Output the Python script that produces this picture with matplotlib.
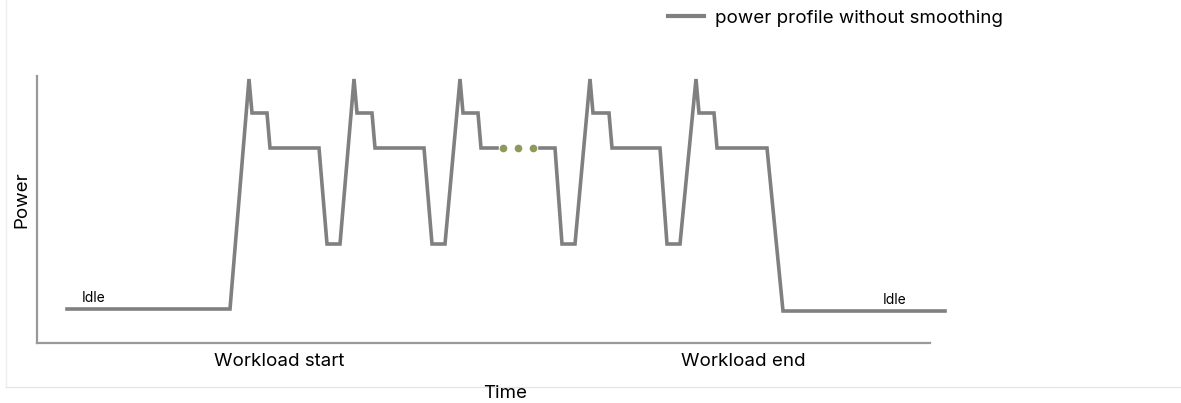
import matplotlib.pyplot as plt
from matplotlib.lines import Line2D

# === Daten (willkürliche Einheiten) ===
# Abschnitt 1: Idle -> drei Lastzyklen bis zur Lücke
time_a = [3.0, 19.3, 21.2, 21.5, 23.0, 23.3, 28.2, 29.0, 30.3,
          31.7, 32.0, 33.5, 33.8, 38.7, 39.5, 40.8,
          42.3, 42.6, 44.1, 44.4, 46.0]
power_a = [3.4, 3.4, 26.4, 23.0, 23.0, 19.5, 19.5, 9.9, 9.9,
           26.4, 23.0, 23.0, 19.5, 19.5, 9.9, 9.9,
           26.4, 23.0, 23.0, 19.5, 19.5]

# Abschnitt 2: nach der Lücke bis Idle
time_b = [50.3, 51.8, 52.5, 53.8, 55.3, 55.6, 57.2, 57.5, 62.3,
          63.0, 64.3, 65.9, 66.2, 67.7, 68.0, 73.0, 74.6, 90.8]
power_b = [19.5, 19.5, 9.9, 9.9, 26.4, 23.0, 23.0, 19.5, 19.5,
           9.9, 9.9, 26.4, 23.0, 23.0, 19.5, 19.5, 3.2, 3.2]

# Punkte "..."
dots_time = [46.6, 48.1, 49.6]
dots_power = [19.5, 19.5, 19.5]

line_color = "#808080"
font = ["Inter", "DejaVu Sans"]

fig = plt.figure(figsize=(11.81, 4.03), dpi=100)
ax = fig.add_axes([37 / 1181, 60 / 403, 893 / 1181, 267 / 403])

ax.plot(time_a, power_a, color=line_color, lw=2.6, clip_on=False,
        solid_joinstyle="miter")
ax.plot(time_b, power_b, color=line_color, lw=2.6, clip_on=False,
        solid_joinstyle="miter")
ax.plot(dots_time, dots_power, ls="none", marker="o", ms=4.5,
        color="#8c9a5e", clip_on=False)

ax.set_xlim(0, 89.3)
ax.set_ylim(0, 26.7)
ax.set_xticks([])
ax.set_yticks([])
for side in ["top", "right"]:
    ax.spines[side].set_visible(False)
for side in ["left", "bottom"]:
    ax.spines[side].set_color("#999999")
    ax.spines[side].set_linewidth(1.6)

# Beschriftungen
ax.text(4.5, 3.8, "Idle", fontsize=10, family=font, ha="left", va="bottom")
ax.text(84.6, 3.6, "Idle", fontsize=10, family=font, ha="left", va="bottom")
fig.text(279 / 1181, 1 - 362 / 403, "Workload start", fontsize=13.5,
         family=font, ha="center", va="center")
fig.text(743 / 1181, 1 - 362 / 403, "Workload end", fontsize=13.5,
         family=font, ha="center", va="center")
fig.text(505 / 1181, 1 - 394 / 403, "Time", fontsize=13.5, family=font,
         ha="center", va="center")
fig.text(22 / 1181, 1 - 200 / 403, "Power", fontsize=13.5, family=font,
         ha="center", va="center", rotation=90)

# Legende
handle = Line2D([], [], color=line_color, lw=3)
fig.legend([handle], ["power profile without smoothing"],
           loc="center left", bbox_to_anchor=(651 / 1181, 1 - 18 / 403),
           frameon=False, prop={"family": font, "size": 13.5},
           handlelength=1.9, handletextpad=0.6)

# dezente Rahmenlinien
fig.add_artist(Line2D([6 / 1181, 6 / 1181], [1 - 387 / 403, 1.0],
                      color="#eeeeee", lw=1, transform=fig.transFigure))
fig.add_artist(Line2D([6 / 1181, 1.0], [1 - 387 / 403, 1 - 387 / 403],
                      color="#e6e6e6", lw=1, transform=fig.transFigure))

fig.savefig("out.png", dpi=100)
